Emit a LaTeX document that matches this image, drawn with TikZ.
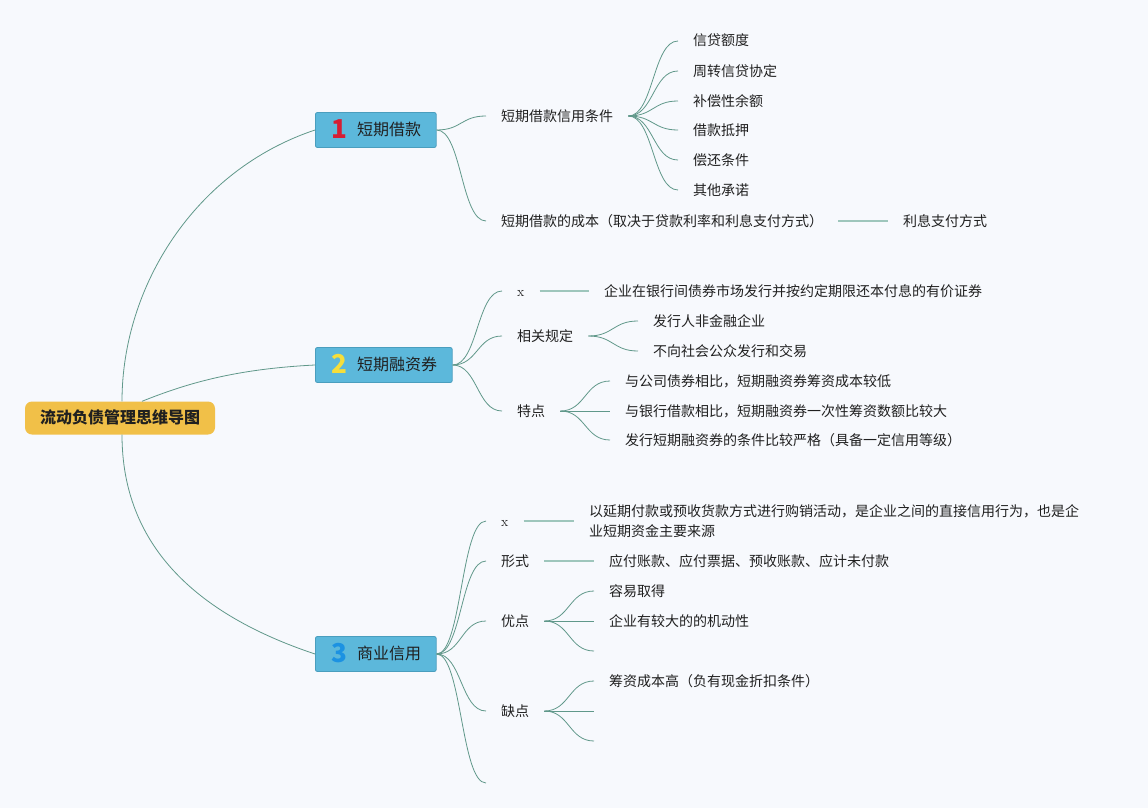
\documentclass[tikz,border=0pt]{standalone}
\usepackage{fontspec}
\newfontfamily\cjk{Noto Sans CJK SC}
\definecolor{bgc}{RGB}{247,249,253}
\definecolor{rootc}{RGB}{241,192,72}
\definecolor{branchc}{RGB}{92,184,219}
\definecolor{branchline}{RGB}{74,158,190}
\definecolor{linkc}{RGB}{96,152,138}
\definecolor{barc}{RGB}{158,198,188}
\definecolor{textc}{RGB}{32,32,32}
\definecolor{numred}{RGB}{214,30,52}
\definecolor{numyellow}{RGB}{246,222,58}
\definecolor{numblue}{RGB}{28,146,226}
\newcommand\bnum[2]{\hspace*{1pt}\raisebox{-3.5pt}{\fontsize{26}{26}\selectfont\bfseries\color{#1}#2}\hspace{10pt}}
\tikzset{
  root/.style={fill=rootc, rounded corners=7pt, minimum height=33pt, inner xsep=15pt, inner ysep=0pt,
    text=textc, text height=13pt, text depth=3pt, font=\cjk\bfseries\fontsize{16}{16}\selectfont},
  branch/.style={anchor=west, fill=branchc, draw=branchline, line width=0.8pt, rounded corners=2pt,
    minimum height=35pt, inner xsep=15pt, inner ysep=0pt, text=textc, text height=13pt, text depth=3pt,
    font=\cjk\fontsize{16}{16}\selectfont},
  leaf/.style={anchor=west, inner xsep=15pt, inner ysep=0pt, text=textc, text height=12pt, text depth=2pt,
    font=\cjk\fontsize{14}{20}\selectfont},
  fan/.style={draw=linkc, line width=0.8pt, to path={.. controls +(25,0) and +(-25,0) .. (\tikztotarget) \tikztonodes}},
  bar/.style={draw=barc, line width=2.2pt},
  link/.style={draw=linkc, line width=0.8pt}
}
\begin{document}
\begin{tikzpicture}[x=1pt,y=-1pt]
  %% background
  \fill[bgc] (0,0) rectangle (1148,808);
  %% root and branches
  \node[root] (root) at (120,418) {流动负债管理思维导图};
  \node[branch] (b1) at (315,130) {\bnum{numred}{1}短期借款};
  \node[branch] (b2) at (315,365) {\bnum{numyellow}{2}短期融资券};
  \node[branch] (b3) at (315,654) {\bnum{numblue}{3}商业信用};
  \draw[link] ([xshift=2]root.north) .. controls +(0,-115) and +(-120,40) .. (b1.west);
  \draw[link] ([xshift=22]root.north) .. controls +(45,-18) and +(-80,4) .. (b2.west);
  \draw[link] ([xshift=2]root.south) .. controls +(0,110) and +(-120,-40) .. (b3.west);
  %% 短期借款
  \node[leaf] (c1) at (486,116) {短期借款信用条件};
  \node[leaf] (c2) at (486,221) {短期借款的成本（取决于贷款利率和利息支付方式）};
  \node[leaf] (c11) at (678,41) {信贷额度};
  \node[leaf] (c12) at (678,71) {周转信贷协定};
  \node[leaf] (c13) at (678,101) {补偿性余额};
  \node[leaf] (c14) at (678,130) {借款抵押};
  \node[leaf] (c15) at (678,160) {偿还条件};
  \node[leaf] (c16) at (678,190) {其他承诺};
  \node[leaf] (c21) at (888,221) {利息支付方式};
  \draw[fan] (b1.east) to (c1.west);
  \draw[fan] (b1.east) to (c2.west);
  \draw[fan] (c1.east) to (c11.west);
  \draw[fan] (c1.east) to (c12.west);
  \draw[fan] (c1.east) to (c13.west);
  \draw[fan] (c1.east) to (c14.west);
  \draw[fan] (c1.east) to (c15.west);
  \draw[fan] (c1.east) to (c16.west);
  \draw[bar] (c2.east) -- (c21.west);
  %% 短期融资券
  \node[leaf] (d1) at (502,291) {\rmfamily x};
  \node[leaf] (d2) at (502,336) {相关规定};
  \node[leaf] (d3) at (502,411) {特点};
  \node[leaf] (d11) at (589,291) {企业在银行间债券市场发行并按约定期限还本付息的有价证券};
  \node[leaf] (d21) at (638,321) {发行人非金融企业};
  \node[leaf] (d22) at (638,351) {不向社会公众发行和交易};
  \node[leaf] (d31) at (610,381) {与公司债券相比，短期融资券筹资成本较低};
  \node[leaf] (d32) at (610,411) {与银行借款相比，短期融资券一次性筹资数额比较大};
  \node[leaf] (d33) at (610,440) {发行短期融资券的条件比较严格（具备一定信用等级）};
  \draw[fan] (b2.east) to (d1.west);
  \draw[fan] (b2.east) to (d2.west);
  \draw[fan] (b2.east) to (d3.west);
  \draw[bar] (d1.east) -- (d11.west);
  \draw[fan] (d2.east) to (d21.west);
  \draw[fan] (d2.east) to (d22.west);
  \draw[fan] (d3.east) to (d31.west);
  \draw[fan] (d3.east) to (d32.west);
  \draw[fan] (d3.east) to (d33.west);
  %% 商业信用
  \node[leaf] (e1) at (486,521) {\rmfamily x};
  \node[leaf] (e2) at (486,561) {形式};
  \node[leaf] (e3) at (486,621) {优点};
  \node[leaf] (e4) at (486,711) {缺点};
  \coordinate (e5) at (486,783);
  \node[leaf, align=left, text height=, text depth=] (e11) at (574,521)
    {以延期付款或预收货款方式进行购销活动，是企业之间的直接信用行为，也是企\\业短期资金主要来源};
  \node[leaf] (e21) at (594,561) {应付账款、应付票据、预收账款、应计未付款};
  \node[leaf] (e31) at (594,591) {容易取得};
  \node[leaf] (e32) at (594,621) {企业有较大的的机动性};
  \coordinate (e33) at (594,651);
  \node[leaf] (e41) at (594,681) {筹资成本高（负有现金折扣条件）};
  \coordinate (e42) at (594,711);
  \coordinate (e43) at (594,741);
  \draw[fan] (b3.east) to (e1.west);
  \draw[fan] (b3.east) to (e2.west);
  \draw[fan] (b3.east) to (e3.west);
  \draw[fan] (b3.east) to (e4.west);
  \draw[fan] (b3.east) to (e5);
  \draw[bar] (e1.east) -- (e11.west);
  \draw[bar] (e2.east) -- (e21.west);
  \draw[fan] (e3.east) to (e31.west);
  \draw[fan] (e3.east) to (e32.west);
  \draw[fan] (e3.east) to (e33);
  \draw[fan] (e4.east) to (e41.west);
  \draw[fan] (e4.east) to (e42);
  \draw[fan] (e4.east) to (e43);
\end{tikzpicture}
\end{document}
